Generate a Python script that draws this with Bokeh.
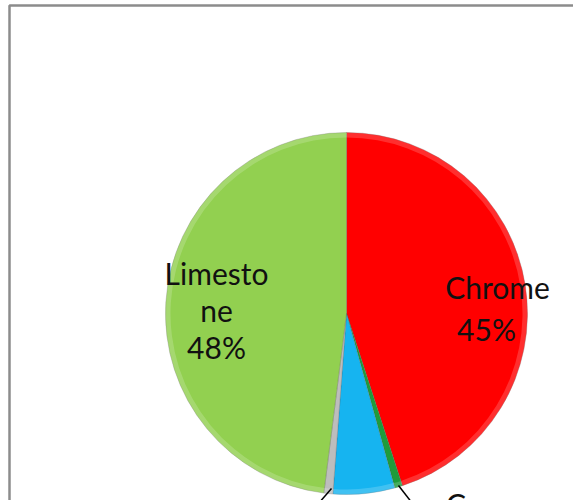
import numpy as np
from bokeh.plotting import figure
from bokeh.models import Range1d, ColumnDataSource
from bokeh.core.properties import value
from bokeh.embed import file_html
from bokeh.resources import INLINE

# Data (clockwise from 12 o'clock)
categories = ["Chrome", "Copper", "Iron", "Other", "Limestone"]
shares = [45.0, 0.7, 5.5, 0.8, 48.0]
colors = ["#FF0000", "#1E9C3A", "#16B4F0", "#BDBDBD", "#92D050"]

W, H = 573, 500
p = figure(width=W, height=H, output_backend="svg", toolbar_location=None,
           x_range=Range1d(0, W), y_range=Range1d(0, H), min_border=0)
p.axis.visible = False
p.grid.visible = False
p.outline_line_color = None
p.background_fill_color = "white"
p.border_fill_color = "white"

def Y(py):
    return H - py

# chart area border (extends beyond the window on right and bottom)
p.quad(left=9, right=W + 50, top=Y(5), bottom=Y(H + 50), fill_color="white",
       line_color="#8C8C8C", line_width=2.5)

cx, cy, r = 346, Y(313), 181
frac = np.array(shares) / sum(shares)
cum = np.concatenate([[0], np.cumsum(frac)])
start = np.pi / 2 - cum[:-1] * 2 * np.pi
end = np.pi / 2 - cum[1:] * 2 * np.pi
src = ColumnDataSource(dict(cat=categories, start=start, end=end, color=colors))
p.wedge(x=cx, y=cy, radius=r, start_angle="start", end_angle="end",
        direction="clock", fill_color="color", line_color="#555555",
        line_alpha=0.25, line_width=1, source=src)
# soft rim highlight
p.annular_wedge(x=cx, y=cy, inner_radius=r - 5, outer_radius=r, start_angle="start",
                end_angle="end", direction="clock", fill_color="white", fill_alpha=0.18,
                line_color=None, source=src)

font = value("Lato")
fs = "30px"
# Limestone label
p.text(x=[216, 216, 216], y=[Y(272), Y(309), Y(346)],
       text=["Limesto", "ne", "48%"], text_align="center", text_baseline="middle",
       text_font=font, text_font_size=fs, text_color="#111111")
# Chrome label
p.text(x=[497, 486], y=[Y(286), Y(328)], text=["Chrome", "45%"], text_align="center",
       text_baseline="middle", text_font=font, text_font_size=fs, text_color="#111111")
# Copper label (cut off by the window, as in the reference)
p.text(x=[494], y=[Y(503)], text=["Copper"], text_align="center",
       text_baseline="middle", text_font=font, text_font_size=fs, text_color="#111111")

# leader lines
p.segment(x0=[331, 398], y0=[Y(488), Y(485)], x1=[318, 412], y1=[Y(503), Y(503)],
          line_color="black", line_width=1.5)

open("out.html", "w").write(file_html(p, INLINE))
